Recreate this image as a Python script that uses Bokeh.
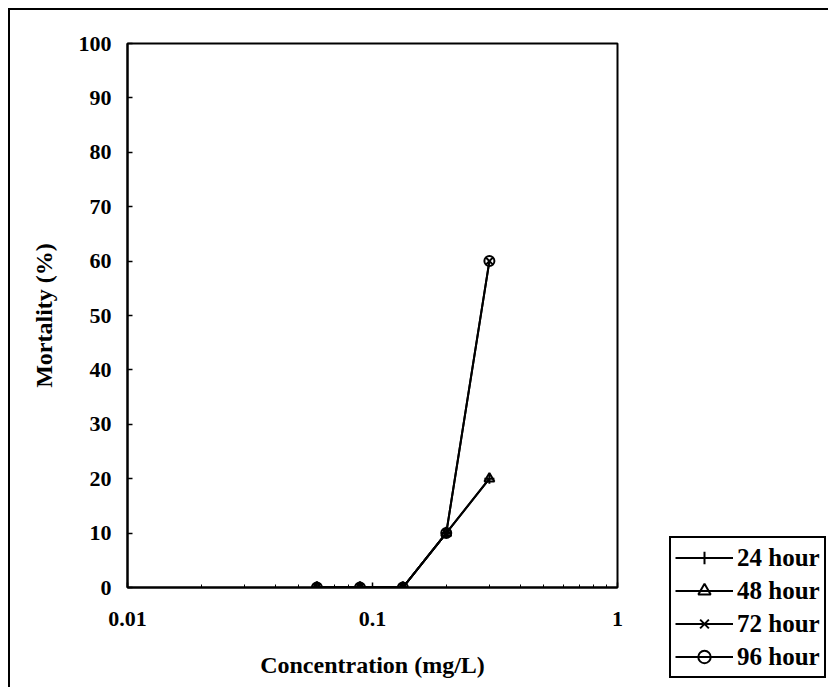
from bokeh.plotting import figure
from bokeh.models import (Range1d, FixedTicker, Legend, LegendItem,
                          CustomJSTickFormatter)
from bokeh.embed import file_html
from bokeh.resources import INLINE

# ---- data ----
concentration = [0.0593, 0.0889, 0.133, 0.2, 0.3]
mort_24h = [0, 0, 0, 10, 20]
mort_48h = [0, 0, 0, 10, 20]
mort_72h = [0, 0, 0, 10, 60]
mort_96h = [0, 0, 0, 10, 60]
series_labels = ["24 hour", "48 hour", "72 hour", "96 hour"]
markers = ["cross", "triangle", "x", "circle"]
y_ticks = [0, 10, 20, 30, 40, 50, 60, 70, 80, 90, 100]
x_ticks = [0.01, 0.1, 1]
x_minor = [0.02, 0.03, 0.04, 0.05, 0.06, 0.07, 0.08, 0.09,
           0.2, 0.3, 0.4, 0.5, 0.6, 0.7, 0.8, 0.9]

FONT = "Liberation Serif"

p = figure(frame_width=490, frame_height=544, x_axis_type="log",
           x_range=Range1d(0.01, 1), y_range=Range1d(0, 100),
           output_backend="svg", toolbar_location=None,
           min_border_left=117, min_border_right=203,
           min_border_top=33, min_border_bottom=100)
p.styles = {"margin-left": "8px", "margin-top": "8px",
            "border-left": "2px solid black", "border-top": "2px solid black"}

p.grid.visible = False
p.outline_line_color = "black"
p.outline_line_width = 2
p.background_fill_color = "white"

for ax in (p.xaxis[0], p.yaxis[0]):
    ax.axis_line_color = "black"
    ax.axis_line_width = 2
    ax.major_tick_line_color = "black"
    ax.major_tick_line_width = 1.5
    ax.minor_tick_line_color = "black"
    ax.major_tick_in = 5
    ax.major_tick_out = 0
    ax.minor_tick_in = 3
    ax.minor_tick_out = 0
    ax.major_label_text_font = FONT
    ax.major_label_text_font_style = "bold"
    ax.major_label_text_font_size = "22px"
    ax.major_label_text_color = "black"
    ax.axis_label_text_font = FONT
    ax.axis_label_text_font_style = "bold"
    ax.axis_label_text_font_size = "24px"
    ax.axis_label_text_color = "black"

p.yaxis.ticker = FixedTicker(ticks=y_ticks)
p.yaxis.minor_tick_line_color = None
p.yaxis.major_label_standoff = 16
p.yaxis.axis_label = "Mortality (%)"
p.yaxis.axis_label_standoff = 19

p.xaxis.ticker = FixedTicker(ticks=x_ticks, minor_ticks=x_minor)
p.xaxis.formatter = CustomJSTickFormatter(
    code="return tick >= 1 ? tick.toFixed(0) : tick.toString();")
p.xaxis.major_label_standoff = 24
p.xaxis.axis_label = "Concentration (mg/L)"
p.xaxis.axis_label_standoff = 23

items = []
for lab, mk, ys in zip(series_labels, markers,
                       [mort_24h, mort_48h, mort_72h, mort_96h]):
    lr = p.line(concentration, ys, line_color="black", line_width=2)
    sr = p.scatter(concentration, ys, marker=mk, size=10,
                   line_color="black", line_width=2, fill_alpha=0)
    items.append(LegendItem(label=lab, renderers=[lr, sr]))

legend = Legend(items=items, location=(52, -91))
legend.border_line_color = "black"
legend.border_line_alpha = 1
legend.border_line_width = 2
legend.background_fill_color = "white"
legend.background_fill_alpha = 1
legend.padding = 4
legend.spacing = 2
legend.margin = 0
legend.glyph_width = 58
legend.glyph_height = 31
legend.label_height = 31
legend.label_standoff = 4
legend.label_text_font = FONT
legend.label_text_font_style = "bold"
legend.label_text_font_size = "25px"
legend.label_text_color = "black"
p.add_layout(legend, "right")

open("out.html", "w").write(file_html(p, INLINE))
